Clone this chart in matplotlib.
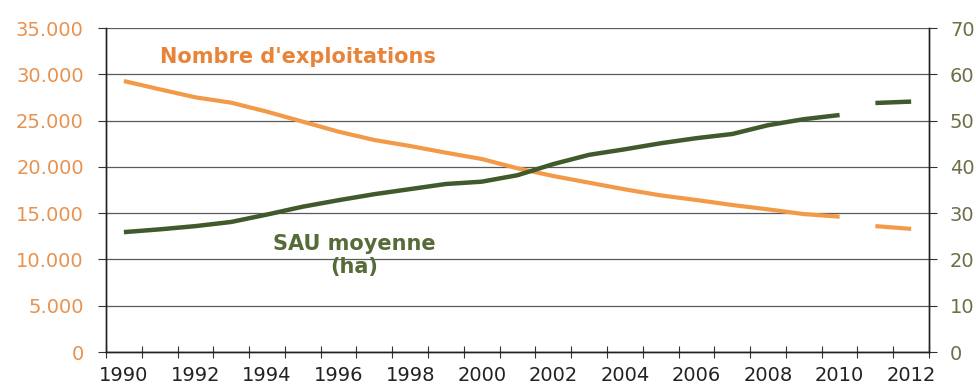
import matplotlib
matplotlib.use("Agg")
import matplotlib.pyplot as plt
from matplotlib.ticker import FuncFormatter, FixedLocator

# Series 1990-2010, then a separate 2011-2012 segment
years = list(range(1990, 2011))
nb_exploitations = [29270, 28380, 27510, 26930, 25960, 24880, 23800, 22900, 22250, 21530,
                    20850, 19840, 19010, 18290, 17570, 16920, 16420, 15880, 15410, 14900, 14620]
sau_moyenne = [25.9, 26.5, 27.2, 28.1, 29.7, 31.4, 32.8, 34.1, 35.2, 36.3,
               36.8, 38.2, 40.6, 42.6, 43.8, 45.1, 46.2, 47.1, 49.0, 50.3, 51.2]
years_recent = [2011, 2012]
nb_recent = [13600, 13300]
sau_recent = [53.8, 54.1]

all_years = list(range(1990, 2013))
label_years = all_years[::2]

orange = '#f29a48'
orange_txt = '#e8843a'
green = '#415a2b'
green_txt = '#566b38'
left_tick_col = '#e8924f'
right_tick_col = '#6e6e48'

fig = plt.figure(figsize=(9.76, 3.9), dpi=100)
ax = fig.add_axes([0.1086, 0.0974, 0.8433, 0.8308])
ax2 = ax.twinx()

def pos(yrs):
    return [all_years.index(y) for y in yrs]

ax.plot(pos(years), nb_exploitations, color=orange, lw=3.0, solid_capstyle='butt', zorder=3)
ax.plot(pos(years_recent), nb_recent, color=orange, lw=3.0, solid_capstyle='butt', zorder=3)
ax2.plot(pos(years), sau_moyenne, color=green, lw=3.2, solid_capstyle='butt', zorder=3)
ax2.plot(pos(years_recent), sau_recent, color=green, lw=3.2, solid_capstyle='butt', zorder=3)

ax.set_xlim(-0.5, len(all_years) - 0.5)
ax.set_ylim(0, 35000)
ax2.set_ylim(0, 70)

# horizontal grid
ax.set_yticks(range(0, 35001, 5000))
ax.yaxis.set_major_formatter(FuncFormatter(lambda v, p: f"{int(v):,}".replace(",", ".")))
ax.grid(axis='y', color='#5a5a5a', lw=0.9)
ax.set_axisbelow(True)
ax2.set_yticks(range(0, 71, 10))

# category boundaries as ticks, labels at category centres
ax.xaxis.set_major_locator(FixedLocator([i + 0.5 for i in range(-1, len(all_years))]))
ax.xaxis.set_minor_locator(FixedLocator(pos(label_years)))
ax.xaxis.set_major_formatter(FuncFormatter(lambda v, p: ''))
ax.xaxis.set_minor_formatter(FuncFormatter(lambda v, p: str(all_years[int(round(v))])))
ax.tick_params(axis='x', which='major', direction='inout', length=8, width=0.8, color='#333333')
ax.tick_params(axis='x', which='minor', length=0, pad=10, labelsize=14, labelcolor='#222222')

ax.tick_params(axis='y', direction='out', length=6, width=0.8, color='#333333',
               pad=10, labelsize=14, labelcolor=left_tick_col)
ax2.tick_params(axis='y', direction='out', length=6, width=0.8, color='#333333',
                pad=9, labelsize=14, labelcolor=right_tick_col)

for a in (ax, ax2):
    a.spines['top'].set_visible(False)
    for s in ('left', 'right', 'bottom'):
        a.spines[s].set_color('#222222')
        a.spines[s].set_linewidth(1.0)

ax.text(1.0, 31860, "Nombre d'exploitations", color=orange_txt, fontsize=15,
        fontweight='bold', ha='left', va='center')
ax2.text(6.44, 20.85, "SAU moyenne\n(ha)", color=green_txt, fontsize=15,
         fontweight='bold', ha='center', va='center', linespacing=1.15)

fig.savefig("out.png", dpi=100, facecolor='white')
